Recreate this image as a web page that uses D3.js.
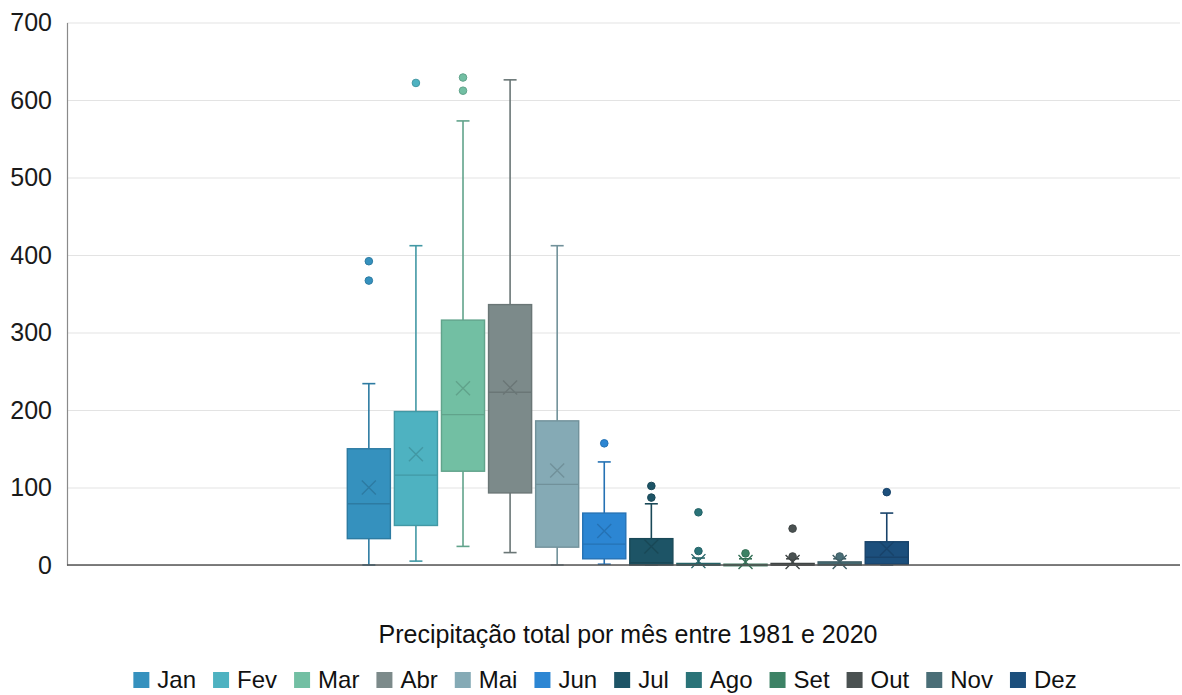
<!DOCTYPE html>
<html>
<head>
<meta charset="utf-8">
<script src="https://cdn.jsdelivr.net/npm/d3@7"></script>
<style>
  html, body { margin: 0; padding: 0; background: #fff; }
  svg { display: block; font-family: "Liberation Sans", Arial, sans-serif; }
</style>
</head>
<body>
<svg id="chart" width="1182" height="695"></svg>
<script>
// Monthly precipitation totals, 1981–2020: box-plot statistics per month
const months = ["Jan", "Fev", "Mar", "Abr", "Mai", "Jun", "Jul", "Ago", "Set", "Out", "Nov", "Dez"];
const whiskerLow  = [0,   5,   24,  16,  0,   1,   0,  0,  0,  0,  0,  0];
const q1Vals      = [34,  51,  121, 93,  23,  8,   0,  0,  0,  0,  0,  1];
const medianVals  = [79,  116, 194, 223, 104, 27,  3,  0,  0,  0,  1,  10];
const q3Vals      = [150, 198, 316, 336, 186, 67,  34, 2,  1,  2,  4,  30];
const whiskerHigh = [234, 412, 573, 626, 412, 133, 79, 9,  8,  8,  8,  67];
const meanVals    = [100, 143, 228, 229, 122, 44,  24, 5,  4,  4,  4,  21];
const outlierVals = [[392, 367], [622], [629, 612], [], [], [157], [102, 87], [68, 18], [15], [47, 11], [11], [94]];
const fillColors  = ["#3591be", "#4eb2c1", "#72bfa3", "#7c8a8a", "#85aab5", "#2c86d3",
                     "#1d5466", "#2a7378", "#3d8265", "#4a5151", "#4a6e77", "#1c4f7c"];
const yTicks = [0, 100, 200, 300, 400, 500, 600, 700];
const titleText = "Precipitação total por mês entre 1981 e 2020";

const svg = d3.select("#chart");
const plot = { left: 67, right: 1180, top: 22.5, bottom: 565 };

const y = d3.scaleLinear().domain([0, 700]).range([plot.bottom, plot.top]);
const x = d3.scaleBand().domain(months).range([347.3, 908.3]).paddingInner(0.085);

const darker = c => d3.color(c).darker(0.45).formatHex();

// horizontal gridlines
const grid = svg.append("g")
  .attr("transform", `translate(${plot.left},0)`)
  .call(d3.axisLeft(y).tickValues(yTicks).tickSize(-(plot.right - plot.left)).tickFormat(""));
grid.select(".domain").remove();
grid.selectAll(".tick line").attr("stroke", "#e3e3e3").attr("stroke-width", 1);

// y axis with labels
const yAxis = svg.append("g")
  .attr("transform", `translate(${plot.left},0)`)
  .call(d3.axisLeft(y).tickValues(yTicks).tickSize(0).tickPadding(15));
yAxis.select(".domain").attr("stroke", "#8a8a8a").attr("stroke-width", 1.2);
yAxis.selectAll(".tick text")
  .attr("font-size", 25).attr("fill", "#1a1a1a")
  .attr("font-family", "'Liberation Sans', Arial, sans-serif");

// boxes
const stats = months.map((m, i) => ({
  m, i,
  lo: whiskerLow[i], q1: q1Vals[i], med: medianVals[i], q3: q3Vals[i],
  hi: whiskerHigh[i], mean: meanVals[i], out: outlierVals[i], color: fillColors[i]
}));

const bw = x.bandwidth();
const capW = 13;
const boxes = svg.append("g").selectAll("g").data(stats).join("g")
  .attr("transform", d => `translate(${x(d.m)},0)`);

// whiskers
boxes.append("line")
  .attr("x1", bw / 2).attr("x2", bw / 2)
  .attr("y1", d => y(d.hi)).attr("y2", d => y(d.q3))
  .attr("stroke", d => darker(d.color)).attr("stroke-width", 1.6);
boxes.append("line")
  .attr("x1", bw / 2).attr("x2", bw / 2)
  .attr("y1", d => y(d.q1)).attr("y2", d => y(d.lo))
  .attr("stroke", d => darker(d.color)).attr("stroke-width", 1.6);
boxes.append("line")
  .attr("x1", bw / 2 - capW / 2).attr("x2", bw / 2 + capW / 2)
  .attr("y1", d => y(d.hi)).attr("y2", d => y(d.hi))
  .attr("stroke", d => darker(d.color)).attr("stroke-width", 1.6);
boxes.append("line")
  .attr("x1", bw / 2 - capW / 2).attr("x2", bw / 2 + capW / 2)
  .attr("y1", d => y(d.lo)).attr("y2", d => y(d.lo))
  .attr("stroke", d => darker(d.color)).attr("stroke-width", 1.6);

// interquartile box
boxes.append("rect")
  .attr("x", 0).attr("width", bw)
  .attr("y", d => y(d.q3))
  .attr("height", d => Math.max(1.5, y(d.q1) - y(d.q3)))
  .attr("fill", d => d.color)
  .attr("stroke", d => darker(d.color)).attr("stroke-width", 1.4);

// median
boxes.append("line")
  .attr("x1", 0).attr("x2", bw)
  .attr("y1", d => y(d.med)).attr("y2", d => y(d.med))
  .attr("stroke", d => darker(d.color)).attr("stroke-width", 1.4);

// mean marker (x)
const mk = 7;
boxes.append("path")
  .attr("d", d => {
    const cx = bw / 2, cy = y(d.mean);
    return `M${cx - mk},${cy - mk}L${cx + mk},${cy + mk}M${cx - mk},${cy + mk}L${cx + mk},${cy - mk}`;
  })
  .attr("stroke", d => darker(d.color)).attr("stroke-width", 1.4).attr("fill", "none");

// outliers
boxes.selectAll("circle").data(d => d.out.map(v => ({ v, color: d.color }))).join("circle")
  .attr("cx", bw / 2).attr("cy", d => y(d.v)).attr("r", 3.8)
  .attr("fill", d => d.color)
  .attr("stroke", d => darker(d.color)).attr("stroke-width", 1);

// x axis baseline
svg.append("line")
  .attr("x1", plot.left).attr("x2", plot.right)
  .attr("y1", y(0)).attr("y2", y(0))
  .attr("stroke", "#555").attr("stroke-width", 1.6);

// axis title
svg.append("text")
  .attr("x", 628).attr("y", 643)
  .attr("text-anchor", "middle")
  .attr("font-size", 25).attr("fill", "#111")
  .text(titleText);

// legend
const legend = svg.append("g");
const sq = 16, gapAfterSq = 8, gapItem = 17;
let cursor = 0;
months.forEach((m, i) => {
  const item = legend.append("g").attr("transform", `translate(${cursor},0)`);
  item.append("rect")
    .attr("x", 0).attr("y", -16).attr("width", sq).attr("height", sq)
    .attr("fill", fillColors[i]);
  const t = item.append("text")
    .attr("x", sq + gapAfterSq).attr("y", 0)
    .attr("font-size", 24).attr("fill", "#111")
    .text(m);
  cursor += sq + gapAfterSq + t.node().getComputedTextLength() + gapItem;
});
const legendW = cursor - gapItem;
legend.attr("transform", `translate(${605 - legendW / 2},688)`);
</script>
</body>
</html>
